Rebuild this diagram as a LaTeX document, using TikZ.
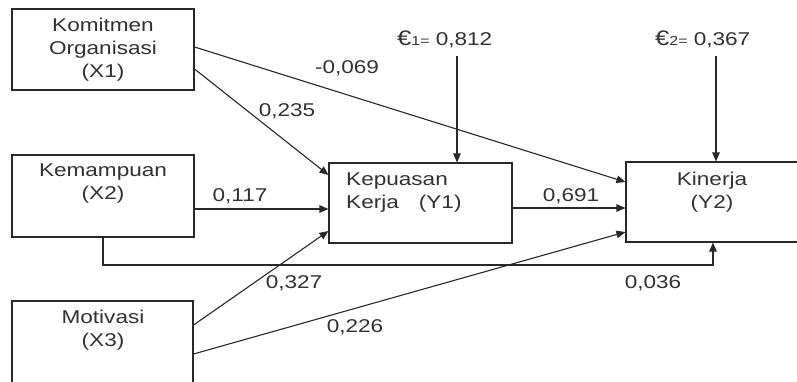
\documentclass[tikz,border=0pt]{standalone}
\usepackage{fontspec}
\setmainfont{Liberation Sans}[FakeStretch=1.22]
\usetikzlibrary{arrows.meta,calc}
\definecolor{ln}{RGB}{40,40,40}
\definecolor{tx}{RGB}{50,50,50}
\tikzset{
  box/.style={draw=ln,line width=1.1pt,rectangle,inner sep=0pt},
  txt/.style={inner sep=0pt,text=tx,font=\fontsize{18.5}{23}\selectfont},
  lab/.style={inner sep=0pt,text=tx,font=\fontsize{18.5}{23}\selectfont},
  arr/.style={draw=ln,line width=1.1pt,-{Triangle[length=9pt,width=7.5pt]}},
}
\newcommand{\subsz}[1]{{\fontsize{13}{13}\selectfont #1}}
\newcommand{\eur}{{\fontsize{21}{23}\selectfont €}}
\begin{document}
\begin{tikzpicture}[x=1pt,y=-1pt]
\useasboundingbox (0,0) rectangle (797,381);
\fill[white] (0,0) rectangle (797,381);
% boxes
\node[box,minimum width=182pt,minimum height=81pt] (X1) at (103,49.5) {};
\node[box,minimum width=182pt,minimum height=82pt] (X2) at (103,196) {};
\node[box,minimum width=181pt,minimum height=99pt] (X3) at (102.5,350.5) {};
\node[box,minimum width=183pt,minimum height=80pt] (Y1) at (420.5,203) {};
\node[box,minimum width=180pt,minimum height=80pt] (Y2) at (716,202) {};
% box texts
\node[txt,anchor=north,align=center] (tX1) at (103,18) {Komitmen\\Organisasi\\(X1)};
\node[txt,anchor=north,align=center] (tX2) at (103,164) {Kemampuan\\(X2)};
\node[txt,anchor=north,align=center] (tX3) at (103,310) {Motivasi\\(X3)};
\node[txt,anchor=north west,align=left] (tY1) at (346,173) {Kepuasan\\Kerja\hspace{20pt}(Y1)};
\node[txt,anchor=north,align=center] (tY2) at (712,172) {Kinerja\\(Y2)};
% error terms
\node[lab,anchor=base west] (e1) at (397,45) {\eur\subsz{1=} 0,812};
\node[lab,anchor=base west] (e2) at (655,45) {\eur\subsz{2=} 0,367};
\coordinate (a1) at (457,56);
\coordinate (a2) at (716,56);
\draw[arr] (a1) -- (a1 |- Y1.north);
\draw[arr] (a2) -- (a2 |- Y2.north);
% paths
\draw[arr] ($(X1.east)+(0,-2.5)$) -- ($(Y2.west)+(0,-20)$);
\draw[arr] ($(X1.east)+(0,19.5)$) -- ($(Y1.west)+(0,-28)$);
\draw[arr] ($(X2.east)+(0,13)$) -- ($(Y1.west)+(0,6)$);
\draw[arr] ($(X3.east)+(0,-25.5)$) -- ($(Y1.west)+(0,28)$);
\draw[arr] ($(X3.east)+(0,3.5)$) -- ($(Y2.west)+(0,30)$);
\draw[arr] ($(Y1.east)+(0,5)$) -- ($(Y2.west)+(0,6)$);
\coordinate (bend) at (713,265);
\draw[arr] (X2.south) |- (bend) -- (bend |- Y2.south);
% labels
\node[lab] (l1) at (347,68) {-0,069};
\node[lab] (l2) at (287,111) {0,235};
\node[lab] (l3) at (240,196) {0,117};
\node[lab] (l4) at (294,283) {0,327};
\node[lab] (l5) at (355,327) {0,226};
\node[lab] (l6) at (571,196) {0,691};
\node[lab] (l7) at (653,283) {0,036};
\end{tikzpicture}
\end{document}
